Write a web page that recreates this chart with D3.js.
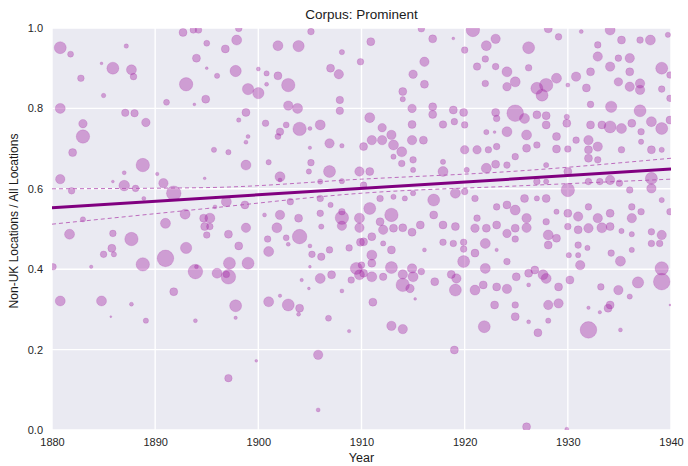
<!DOCTYPE html>
<html>
<head>
<meta charset="utf-8">
<script src="https://d3js.org/d3.v7.min.js"></script>
<style>
  html, body { margin: 0; padding: 0; background: #ffffff; }
  svg { display: block; font-family: "Liberation Sans", Arial, Helvetica, sans-serif; }
</style>
</head>
<body>
<svg id="chart" width="688" height="466"></svg>
<script>
// Publication year of each book
const years = [
  1880.8,1881.8,1887.2,1885.9,1887.7,1887.9,1884.8,1882.8,1885.0,1880.8,
  1887.1,1888.0,1889.1,1883.0,1883.0,1882.0,1888.8,1880.8,1887.0,1885.9,
  1887.0,1888.1,1881.9,1890.2,1890.8,1891.8,1888.9,1883.0,1891.0,1892.9,
  1894.7,1894.8,1892.7,1893.7,1894.2,1895.0,1894.0,1895.0,1893.0,1894.9,
  1891.1,1893.8,1894.8,1881.7,1885.9,1887.7,1885.8,1885.0,1886.0,1888.8,
  1891.0,1893.0,1895.0,1893.9,1894.0,1883.8,1880.1,1880.8,1884.8,1887.7,
  1885.7,1889.1,1891.8,1893.9,1897.1,1898.8,1901.8,1898.1,1900.9,1901.0,
  1902.7,1902.9,1904.0,1905.0,1905.2,1906.1,1906.9,1906.1,1908.1,1909.8,
  1908.8,1909.9,1897.2,1899.0,1896.0,1897.1,1896.9,1905.0,1904.2,1904.9,
  1906.0,1907.1,1909.0,1909.5,1909.8,1908.1,1902.1,1901.0,1902.9,1904.0,
  1903.9,1897.8,1897.8,1906.8,1908.8,1905.8,1899.8,1897.1,1905.8,1912.1,
  1913.1,1914.0,1914.9,1919.1,1921.0,1922.1,1924.1,1924.9,1911.0,1912.1,
  1910.2,1912.9,1916.1,1917.9,1918.9,1919.9,1919.9,1922.0,1921.0,1923.1,
  1924.9,1911.0,1911.0,1910.0,1912.9,1914.9,1914.0,1915.0,1914.0,1914.7,
  1912.1,1911.0,1910.2,1915.8,1915.2,1917.1,1919.9,1918.7,1919.2,1919.1,
  1921.0,1921.8,1922.0,1923.1,1924.1,1924.1,1925.0,1922.9,1924.9,1924.9,
  1911.1,1912.9,1914.0,1921.9,1919.0,1926.0,1928.1,1928.9,1928.1,1930.0,
  1931.0,1932.0,1933.3,1934.1,1935.2,1936.2,1938.1,1939.1,1938.9,1938.1,
  1931.0,1931.9,1930.1,1931.0,1931.2,1934.2,1935.1,1936.2,1939.1,1939.1,
  1936.8,1926.2,1926.8,1927.6,1927.9,1929.1,1930.2,1926.2,1933.2,1934.9,
  1936.0,1928.1,1929.1,1932.0,1934.1,1933.9,1933.1,1926.2,1928.1,1927.1,
  1932.0,1935.1,1939.9,1926.0,1929.9,1898.1,1897.9,1896.8,1901.9,1903.9,
  1905.1,1908.1,1909.9,1897.8,1900.0,1900.8,1901.9,1896.0,1902.9,1900.8,
  1899.0,1900.0,1907.0,1907.8,1907.9,1907.9,1902.9,1903.8,1898.8,1898.1,
  1900.7,1902.7,1904.0,1905.0,1906.0,1902.1,1901.9,1899.0,1898.8,1906.9,
  1908.1,1905.0,1895.7,1897.1,1898.8,1901.0,1905.1,1906.9,1904.9,1909.8,
  1902.1,1902.1,1906.0,1908.1,1896.9,1898.7,1903.1,1906.0,1907.0,1908.1,
  1908.1,1909.8,1906.0,1903.9,1902.1,1895.3,1895.8,1900.6,1895.3,1915.8,
  1920.8,1916.9,1918.9,1910.9,1920.0,1922.1,1923.0,1916.1,1921.2,1923.0,
  1922.0,1915.0,1924.1,1924.9,1924.1,1922.0,1916.1,1914.0,1914.0,1914.9,
  1916.9,1916.9,1918.9,1919.9,1923.0,1923.1,1924.9,1910.8,1917.9,1919.0,
  1920.0,1914.9,1912.0,1922.1,1924.1,1922.9,1911.0,1912.0,1912.9,1913.1,
  1913.9,1914.9,1916.0,1910.2,1913.1,1913.9,1915.0,1915.0,1917.9,1917.9,
  1920.0,1921.2,1922.3,1923.1,1924.9,1923.0,1922.1,1924.1,1920.2,1910.8,
  1910.2,1911.8,1913.1,1914.2,1915.0,1917.0,1919.1,1920.0,1921.0,1923.1,
  1924.1,1924.9,1910.8,1912.9,1911.8,1917.0,1917.9,1915.7,1923.1,1921.2,
  1928.1,1929.1,1926.2,1931.3,1934.1,1935.2,1937.0,1938.0,1939.7,1932.9,
  1932.9,1934.1,1934.9,1936.0,1936.0,1939.1,1939.9,1926.2,1927.0,1927.9,
  1927.5,1928.9,1930.8,1931.8,1932.2,1934.9,1936.0,1937.0,1937.0,1939.1,
  1939.9,1934.2,1932.2,1930.0,1937.0,1938.1,1939.1,1939.9,1936.2,1935.2,
  1934.1,1933.3,1932.2,1925.8,1927.0,1927.9,1927.9,1929.9,1929.9,1926.0,
  1926.0,1927.0,1928.9,1928.9,1930.0,1930.8,1932.0,1932.0,1932.9,1937.1,
  1937.1,1938.1,1939.1,1935.2,1927.9,1932.9,1932.0,1930.0,1930.0,1927.0,
  1927.9,1932.0,1933.1,1934.1,1935.0,1936.0,1938.1,1938.1,1925.8,1927.0,
  1927.9,1928.9,1930.0,1931.0,1932.0,1932.9,1934.1,1936.2,1936.2,1937.1,
  1939.1,1939.9,1926.0,1927.9
];

// Share of non-UK locations among all locations mentioned
const ratios = [
  0.951,0.935,0.955,0.900,0.896,0.879,0.912,0.875,0.832,0.800,
  0.789,0.788,0.765,0.762,0.730,0.690,0.659,0.624,0.640,0.618,
  0.608,0.601,0.595,0.637,0.614,0.589,0.576,0.524,0.514,0.537,
  0.527,0.506,0.989,0.995,0.995,0.962,0.925,0.900,0.860,0.823,
  0.815,0.810,0.626,0.487,0.489,0.475,0.452,0.437,0.437,0.412,
  0.427,0.453,0.485,0.394,0.406,0.406,0.406,0.321,0.321,0.313,
  0.282,0.272,0.344,0.272,0.487,0.503,0.503,0.458,0.475,0.444,
  0.478,0.462,0.481,0.458,0.437,0.431,0.448,0.506,0.508,0.503,
  0.453,0.467,0.415,0.415,0.390,0.381,0.387,0.406,0.373,0.352,
  0.377,0.386,0.373,0.402,0.386,0.346,0.334,0.319,0.311,0.303,
  0.288,0.309,0.279,0.278,0.246,0.187,0.172,0.129,0.050,0.498,
  0.502,0.503,0.492,0.506,0.502,0.502,0.489,0.502,0.481,0.464,
  0.468,0.448,0.448,0.467,0.464,0.467,0.450,0.464,0.440,0.448,
  0.475,0.435,0.415,0.410,0.404,0.402,0.387,0.381,0.361,0.352,
  0.381,0.381,0.390,0.394,0.326,0.369,0.419,0.387,0.377,0.348,
  0.348,0.361,0.402,0.356,0.351,0.419,0.381,0.311,0.311,0.282,
  0.318,0.259,0.251,0.257,0.199,0.503,0.485,0.477,0.460,0.506,
  0.498,0.502,0.503,0.506,0.495,0.487,0.493,0.485,0.464,0.464,
  0.460,0.453,0.435,0.435,0.410,0.440,0.420,0.448,0.402,0.369,
  0.367,0.390,0.398,0.386,0.377,0.356,0.373,0.361,0.356,0.348,
  0.332,0.311,0.315,0.304,0.311,0.303,0.293,0.269,0.272,0.242,
  0.249,0.249,0.311,0.008,0.002,0.999,0.970,0.948,0.956,0.955,
  0.991,0.940,0.916,0.893,0.898,0.887,0.881,0.881,0.858,0.860,
  0.848,0.838,0.900,0.885,0.821,0.794,0.807,0.800,0.790,0.771,
  0.763,0.759,0.749,0.750,0.759,0.742,0.730,0.730,0.716,0.713,
  0.707,0.702,0.697,0.691,0.659,0.666,0.665,0.643,0.643,0.643,
  0.630,0.622,0.618,0.619,0.568,0.560,0.568,0.576,0.560,0.528,
  0.543,0.527,0.539,0.527,0.535,0.527,0.555,0.535,0.506,0.998,
  0.995,0.973,0.974,0.966,0.945,0.956,0.973,0.916,0.904,0.904,
  0.923,0.885,0.891,0.866,0.854,0.862,0.860,0.842,0.823,0.800,
  0.804,0.785,0.796,0.790,0.790,0.775,0.788,0.777,0.760,0.767,
  0.759,0.760,0.752,0.741,0.742,0.741,0.721,0.721,0.734,0.709,
  0.692,0.721,0.721,0.705,0.680,0.663,0.672,0.647,0.667,0.643,
  0.697,0.697,0.697,0.705,0.680,0.661,0.651,0.659,0.647,0.643,
  0.609,0.576,0.580,0.576,0.589,0.572,0.589,0.593,0.576,0.555,
  0.560,0.547,0.551,0.535,0.518,0.535,0.510,0.510,0.510,0.527,
  0.998,0.978,0.951,0.991,0.995,0.970,0.970,0.970,0.983,0.958,
  0.929,0.904,0.925,0.925,0.891,0.900,0.883,0.901,0.850,0.858,
  0.833,0.875,0.879,0.851,0.891,0.866,0.854,0.862,0.846,0.848,
  0.825,0.804,0.810,0.858,0.794,0.767,0.750,0.771,0.763,0.750,
  0.754,0.759,0.759,0.775,0.784,0.782,0.759,0.763,0.779,0.734,
  0.701,0.709,0.730,0.699,0.699,0.721,0.721,0.697,0.705,0.742,
  0.717,0.697,0.697,0.697,0.659,0.672,0.676,0.643,0.597,0.618,
  0.618,0.618,0.618,0.622,0.614,0.597,0.626,0.601,0.576,0.576,
  0.576,0.543,0.539,0.531,0.555,0.527,0.539,0.555,0.527,0.543,
  0.572,0.543,0.527,0.518
];

// Number of locations mentioned in each book (sets marker area)
const locationCounts = [
  36,9,5,36,25,11,2,11,5,25,
  14,14,18,18,45,16,45,22,4,2,
  28,11,11,3,22,53,4,7,25,25,
  16,16,16,11,11,9,16,2,45,16,
  9,2,2,25,11,45,16,11,7,45,
  69,32,11,53,4,3,11,25,25,4,
  1,7,16,4,16,22,25,16,11,25,
  9,4,53,4,11,14,11,7,22,22,
  11,16,36,36,25,53,11,2,3,2,
  25,16,11,36,25,4,3,25,36,16,
  4,36,3,9,3,22,2,14,4,22,
  16,16,16,16,18,16,18,16,16,7,
  16,16,4,11,11,11,11,25,16,3,
  11,25,16,11,36,22,22,25,45,18,
  14,25,16,11,2,16,36,16,22,36,
  25,16,25,16,22,11,16,16,11,16,
  16,22,22,36,16,22,25,16,16,11,
  16,22,25,16,7,7,11,22,11,11,
  11,7,7,7,22,11,25,7,45,69,
  32,16,16,25,25,16,16,4,11,22,
  7,22,22,3,16,16,3,4,7,16,
  69,4,1,16,4,11,25,16,25,32,
  11,7,11,32,4,7,16,7,45,4,
  32,32,16,22,14,14,22,25,16,5,
  11,9,45,4,25,14,9,4,4,22,
  5,3,7,7,25,7,11,36,7,22,
  25,4,7,7,25,16,11,11,7,45,
  11,25,11,16,22,25,4,4,11,11,
  45,16,2,16,11,25,22,22,14,11,
  11,18,25,25,18,11,16,16,7,18,
  16,16,16,16,16,11,69,25,14,11,
  11,16,18,7,25,2,22,22,22,25,
  25,22,16,16,7,11,11,7,7,25,
  18,18,11,11,11,16,25,11,7,16,
  11,11,7,7,7,36,25,11,11,11,
  16,25,36,45,16,16,16,16,16,11,
  16,11,36,4,25,16,11,25,7,11,
  22,22,11,22,16,36,11,11,36,45,
  36,25,22,16,16,18,22,22,22,11,
  11,32,11,4,36,25,36,16,16,25,
  36,16,16,25,16,16,16,16,7,25,
  16,11,16,16,11,11,22,16,22,11,
  7,16,7,11,7,11,16,16,45,11,
  7,11,11,22,11,11,36,22,16,7,
  16,7,16,22,11,22,16,11,22,11,
  7,11,22,11
];

// Fitted linear trend and its confidence bounds
const fitYears = [1880, 1940];
const fitValues = [0.553, 0.649];
const bandYears = [1880, 1895, 1910, 1925, 1940];
const bandUpper = [0.600, 0.603, 0.624, 0.644, 0.676];
const bandLower = [0.512, 0.551, 0.589, 0.607, 0.624];

// Axis ticks
const xTicks = [1880, 1890, 1900, 1910, 1920, 1930, 1940];
const yTicks = [0.0, 0.2, 0.4, 0.6, 0.8, 1.0];

const chartTitle = "Corpus: Prominent";
const xTitle = "Year";
const yTitle = "Non-UK Locations / All Locations";

const points = years.map((y, i) => ({ year: y, ratio: ratios[i], count: locationCounts[i] }));

const svg = d3.select("#chart");
const margin = { top: 28, right: 17, bottom: 36, left: 52 };
const width = 688 - margin.left - margin.right;
const height = 466 - margin.top - margin.bottom;

const x = d3.scaleLinear().domain([1880, 1940]).range([0, width]);
const y = d3.scaleLinear().domain([0, 1]).range([height, 0]);
const r = d3.scaleSqrt().domain([0, 64]).range([0, 8]);

const g = svg.append("g").attr("transform", `translate(${margin.left},${margin.top})`);

svg.append("defs").append("clipPath").attr("id", "plot-clip")
  .append("rect").attr("width", width).attr("height", height);

// Plot background
g.append("rect").attr("width", width).attr("height", height).attr("fill", "#eaeaf2");

// Grid lines
g.append("g").selectAll("line").data(xTicks).join("line")
  .attr("x1", d => x(d)).attr("x2", d => x(d))
  .attr("y1", 0).attr("y2", height)
  .attr("stroke", "#ffffff").attr("stroke-width", 1.4);
g.append("g").selectAll("line").data(yTicks).join("line")
  .attr("x1", 0).attr("x2", width)
  .attr("y1", d => y(d)).attr("y2", d => y(d))
  .attr("stroke", "#ffffff").attr("stroke-width", 1.4);

const plot = g.append("g").attr("clip-path", "url(#plot-clip)");

// Books
plot.append("g").selectAll("circle").data(points).join("circle")
  .attr("cx", d => x(d.year))
  .attr("cy", d => y(d.ratio))
  .attr("r", d => r(d.count))
  .attr("fill", "#a020a0")
  .attr("fill-opacity", 0.38)
  .attr("stroke", "#a020a0")
  .attr("stroke-opacity", 0.22)
  .attr("stroke-width", 0.8);

// Confidence bounds
const bandLine = d3.line().curve(d3.curveMonotoneX).x(d => x(d[0])).y(d => y(d[1]));
[bandUpper, bandLower].forEach(vals => {
  plot.append("path")
    .datum(bandYears.map((yr, i) => [yr, vals[i]]))
    .attr("d", bandLine)
    .attr("fill", "none")
    .attr("stroke", "#b455b4")
    .attr("stroke-opacity", 0.85)
    .attr("stroke-width", 1)
    .attr("stroke-dasharray", "4,3");
});

// Trend line
plot.append("path")
  .datum(fitYears.map((yr, i) => [yr, fitValues[i]]))
  .attr("d", d3.line().x(d => x(d[0])).y(d => y(d[1])))
  .attr("fill", "none")
  .attr("stroke", "#800080")
  .attr("stroke-width", 3);

// Axes (labels only, no domain or tick marks)
const xAxis = g.append("g").attr("transform", `translate(0,${height})`)
  .call(d3.axisBottom(x).tickValues(xTicks).tickFormat(d3.format("d")).tickSize(0).tickPadding(8));
const yAxis = g.append("g")
  .call(d3.axisLeft(y).tickValues(yTicks).tickFormat(d3.format(".1f")).tickSize(0).tickPadding(9));
[xAxis, yAxis].forEach(a => {
  a.select(".domain").remove();
  a.selectAll("text").attr("fill", "#262626").attr("font-size", 11)
    .attr("font-family", "'Liberation Sans', Arial, sans-serif");
});

// Titles
svg.append("text")
  .attr("x", margin.left + width / 2).attr("y", 19)
  .attr("text-anchor", "middle").attr("font-size", 13.5).attr("fill", "#1a1a1a")
  .text(chartTitle);
svg.append("text")
  .attr("x", margin.left + width / 2).attr("y", 462)
  .attr("text-anchor", "middle").attr("font-size", 12.5).attr("fill", "#1a1a1a")
  .text(xTitle);
svg.append("text")
  .attr("transform", `translate(17.5,${margin.top + height / 2 - 8}) rotate(-90)`)
  .attr("text-anchor", "middle").attr("font-size", 12).attr("fill", "#1a1a1a")
  .text(yTitle);
</script>
</body>
</html>
